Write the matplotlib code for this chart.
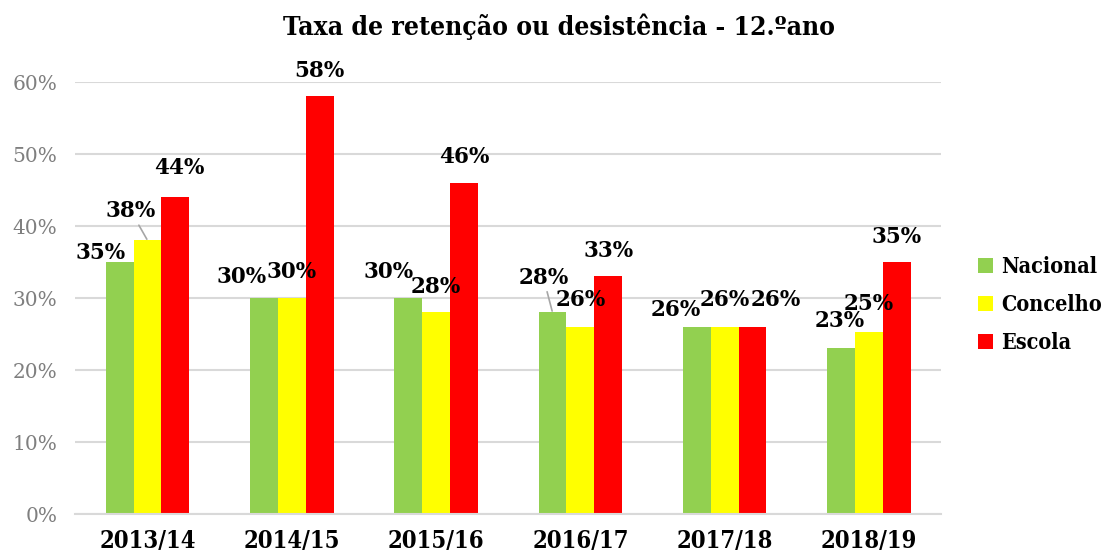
import matplotlib
matplotlib.use("Agg")
import matplotlib.pyplot as plt
from matplotlib import font_manager
import numpy as np
from matplotlib.patches import Patch

title = "Taxa de retenção ou desistência - 12.ºano"
years = ["2013/14", "2014/15", "2015/16", "2016/17", "2017/18", "2018/19"]
series_names = ["Nacional", "Concelho", "Escola"]
nacional = [35, 30, 30, 28, 26, 23]
concelho = [38, 30, 28, 26, 26, 25.3]
escola = [44, 58, 46, 33, 26, 35]
yticks = [0, 10, 20, 30, 40, 50, 60]

colors = ["#92D050", "#FFFF00", "#FF0000"]
# label offsets (pixels) relative to each bar top: (dx, dy) of the text baseline-center
label_offsets = [
    [(-19, 11), (-22, 23), (-20, 28.5), (-9, 36.4), (-21, 19), (-1, 29.4)],
    [(-16.5, 31), (0, 28.5), (0, 27.4), (0, 29), (0, 29), (0, 30)],
    [(3.5, 31), (0, 27.4), (0, 28), (0, 27.7), (23, 29), (0, 27.4)],
]
leaders = {(1, 0), (0, 3)}

SERIF = "DejaVu Serif"
has_cond = any(f.name == SERIF and f.stretch == "condensed" and f.weight in (700, "bold")
               for f in font_manager.fontManager.ttflist)
STRETCH = "condensed" if has_cond else "normal"
k = 1.0 if has_cond else 0.9

W, H = 1106, 557
fig = plt.figure(figsize=(W / 100, H / 100), dpi=100)
ax = fig.add_axes([75.4 / W, (H - 514) / H, (941 - 75.4) / W, 432 / H])

x = np.arange(len(years))
bw = 0.193
data = [nacional, concelho, escola]
for s, vals in enumerate(data):
    xs = x + (s - 1) * bw
    ax.bar(xs, vals, width=bw, color=colors[s], zorder=2, linewidth=0)
    for i, v in enumerate(vals):
        dx, dy = label_offsets[s][i]
        kw = {}
        if (s, i) in leaders:
            kw["arrowprops"] = dict(arrowstyle="-", color="#A6A6A6", lw=1.2,
                                    shrinkA=0, shrinkB=1)
        ax.annotate(f"{v:.0f}%", xy=(xs[i], v), xytext=(dx, dy - 8),
                    textcoords="offset pixels", ha="center", va="baseline",
                    fontsize=15.5, fontweight="bold", family=SERIF,
                    color="#000000", zorder=3, annotation_clip=False, **kw)

ax.set_xlim(-0.5, len(years) - 0.5)
ax.set_ylim(0, 60)
ax.set_yticks(yticks)
ax.set_yticklabels([f"{t}%" for t in yticks], family=SERIF, fontsize=14.5,
                   color="#7F7F7F")
ax.set_xticks(x)
ax.set_xticklabels(years, family=SERIF, fontsize=17 * k, fontweight="bold",
                   fontstretch=STRETCH, color="#000000")
ax.tick_params(axis="both", length=0)
ax.tick_params(axis="y", pad=13)
ax.tick_params(axis="x", pad=11)
ax.grid(axis="y", color="#D9D9D9", lw=1.5, zorder=0)
for sp in ["top", "right", "left"]:
    ax.spines[sp].set_visible(False)
ax.spines["bottom"].set_color("#D9D9D9")
ax.spines["bottom"].set_linewidth(1.5)

fig.text(559 / W, 1 - 27 / H, title, ha="center", va="center",
         fontsize=19 if has_cond else 17.5, fontweight="bold", family=SERIF,
         fontstretch=STRETCH)

handles = [Patch(facecolor=c, edgecolor="none") for c in colors]
leg = fig.legend(handles, series_names, loc="center left",
                 bbox_to_anchor=(978 / W, 1 - 305 / H), frameon=False,
                 prop=dict(family=SERIF, weight="bold", size=15.5 * k,
                           stretch=STRETCH),
                 handlelength=0.68, handleheight=0.68, handletextpad=0.4,
                 labelspacing=0.75, borderpad=0, borderaxespad=0)

fig.savefig("out.png", dpi=100)
